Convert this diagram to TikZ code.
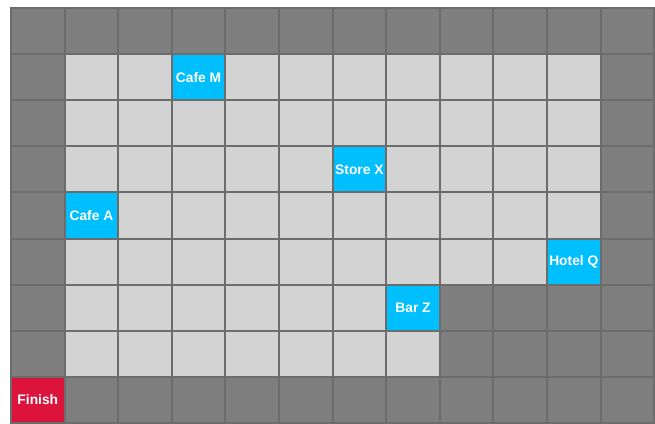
\documentclass[tikz,border=0pt]{standalone}
\usepackage{fontspec}
\setmainfont{Liberation Sans}

\definecolor{wallgray}{HTML}{7F7F7F}
\definecolor{floorgray}{HTML}{D3D3D3}
\definecolor{linegray}{HTML}{6C6C6C}
\definecolor{spotblue}{HTML}{00BFFF}
\definecolor{finishred}{HTML}{DC143C}

\begin{document}
\begin{tikzpicture}[x=1pt, y=-1pt,
    wall/.style={fill=wallgray, draw=linegray, line width=2pt},
    floor/.style={fill=floorgray, draw=linegray, line width=2pt},
    spot/.style={fill=spotblue, draw=linegray, line width=2pt, minimum width=53.6pt,
        minimum height=46.1pt, inner sep=0pt, text=white, font=\bfseries\fontsize{13.8}{14}\selectfont},
    finish/.style={spot, fill=finishred}]
    \useasboundingbox (0,0) rectangle (655,423);

    % Draw the walls (the whole grid first)
    \foreach \c in {0,...,11}
        \foreach \r in {0,...,8}
            \draw[wall] ({11+53.6*\c},{8+46.1*\r}) rectangle +(53.6,46.1);

    % Draw the floor cells
    \foreach \c in {1,...,10}
        \foreach \r in {1,...,5}
            \draw[floor] ({11+53.6*\c},{8+46.1*\r}) rectangle +(53.6,46.1);
    \foreach \c in {1,...,6}
        \draw[floor] ({11+53.6*\c},{8+46.1*6}) rectangle +(53.6,46.1);
    \foreach \c in {1,...,7}
        \draw[floor] ({11+53.6*\c},{8+46.1*7}) rectangle +(53.6,46.1);

    % Place the labelled spots
    \node[spot] (cafeM) at ({37.8+53.6*3},{31.05+46.1*1}) {Cafe M};
    \node[spot] (storeX) at ({37.8+53.6*6},{31.05+46.1*3}) {Store X};
    \node[spot] (cafeA) at ({37.8+53.6*1},{31.05+46.1*4}) {Cafe A};
    \node[spot] (hotelQ) at ({37.8+53.6*10},{31.05+46.1*5}) {Hotel Q};
    \node[spot] (barZ) at ({37.8+53.6*7},{31.05+46.1*6}) {Bar Z};
    \node[finish] (goal) at ({37.8+53.6*0},{31.05+46.1*8}) {Finish};
\end{tikzpicture}
\end{document}
